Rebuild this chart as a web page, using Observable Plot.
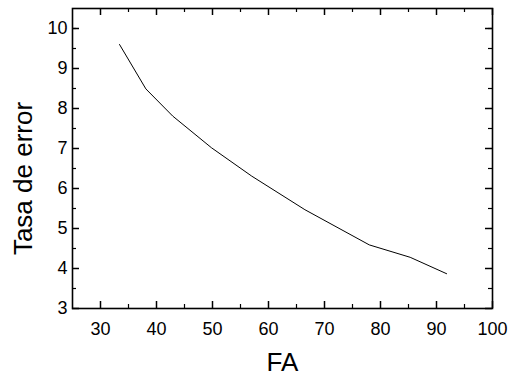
<!DOCTYPE html>
<html>
<head>
<meta charset="utf-8">
<script src="https://cdn.jsdelivr.net/npm/d3@7"></script>
<script src="https://cdn.jsdelivr.net/npm/@observablehq/plot@0.6"></script>
<style>
  html, body { margin: 0; padding: 0; background: #fff; }
</style>
</head>
<body>
<div id="chart"></div>
<script>
const fa = [33.4, 38.1, 42.9, 49.8, 57.0, 66.5, 78.0, 85.3, 91.8];
const tasa = [9.6, 8.49, 7.81, 7.02, 6.31, 5.47, 4.59, 4.28, 3.87];
const xMajor = [30, 40, 50, 60, 70, 80, 90, 100];
const xMinor = [35, 45, 55, 65, 75, 85, 95];
const yMajor = [3, 4, 5, 6, 7, 8, 9, 10];
const yMinor = [3.5, 4.5, 5.5, 6.5, 7.5, 8.5, 9.5, 10];
const xLabel = "FA";
const yLabel = "Tasa de error";

const data = fa.map((x, i) => ({x, y: tasa[i]}));

const W = 509, H = 375;
const mL = 72, mR = 17, mT = 8, mB = 67;
const pw = W - mL - mR, ph = H - mT - mB;
const MAJ = 7, MIN = 4;

const chart = Plot.plot({
  width: W,
  height: H,
  marginLeft: mL,
  marginRight: mR,
  marginTop: mT,
  marginBottom: mB,
  style: {fontFamily: "'Liberation Sans', Arial, sans-serif", background: "#fff", color: "#000"},
  x: {domain: [25, 100]},
  y: {domain: [3, 10.5]},
  marks: [
    Plot.tickX(xMajor, {x: d => d, insetTop: ph - MAJ, stroke: "#000", strokeWidth: 1.5}),
    Plot.tickX(xMinor, {x: d => d, insetTop: ph - MIN, stroke: "#000", strokeWidth: 1.2}),
    Plot.tickX(xMajor, {x: d => d, insetBottom: ph - MAJ, stroke: "#000", strokeWidth: 1.5}),
    Plot.tickX(xMinor, {x: d => d, insetBottom: ph - MIN, stroke: "#000", strokeWidth: 1.2}),
    Plot.tickY(yMajor, {y: d => d, insetRight: pw - MAJ, stroke: "#000", strokeWidth: 1.5}),
    Plot.tickY(yMinor, {y: d => d, insetRight: pw - MIN, stroke: "#000", strokeWidth: 1.2}),
    Plot.tickY(yMajor, {y: d => d, insetLeft: pw - MAJ, stroke: "#000", strokeWidth: 1.5}),
    Plot.tickY(yMinor, {y: d => d, insetLeft: pw - MIN, stroke: "#000", strokeWidth: 1.2}),
    Plot.frame({stroke: "#000", strokeWidth: 1.6}),
    Plot.axisX({ticks: xMajor, tickSize: 0, tickPadding: 14, fontSize: 18, label: null, tickFormat: d => String(d)}),
    Plot.axisY({ticks: yMajor, tickSize: 0, tickPadding: 5, fontSize: 18, label: null, tickFormat: d => String(d)}),
    Plot.lineY(data, {x: "x", y: "y", stroke: "#000", strokeWidth: 1}),
    Plot.text([xLabel], {frameAnchor: "bottom", textAnchor: "middle", lineAnchor: "bottom", dy: 62, fontSize: 26, text: d => d, fill: "#000"}),
    Plot.text([yLabel], {frameAnchor: "left", textAnchor: "middle", lineAnchor: "middle", dx: -49, dy: 20, rotate: -90, fontSize: 26, text: d => d, fill: "#000"})
  ]
});
document.getElementById("chart").appendChild(chart);
</script>
</body>
</html>
